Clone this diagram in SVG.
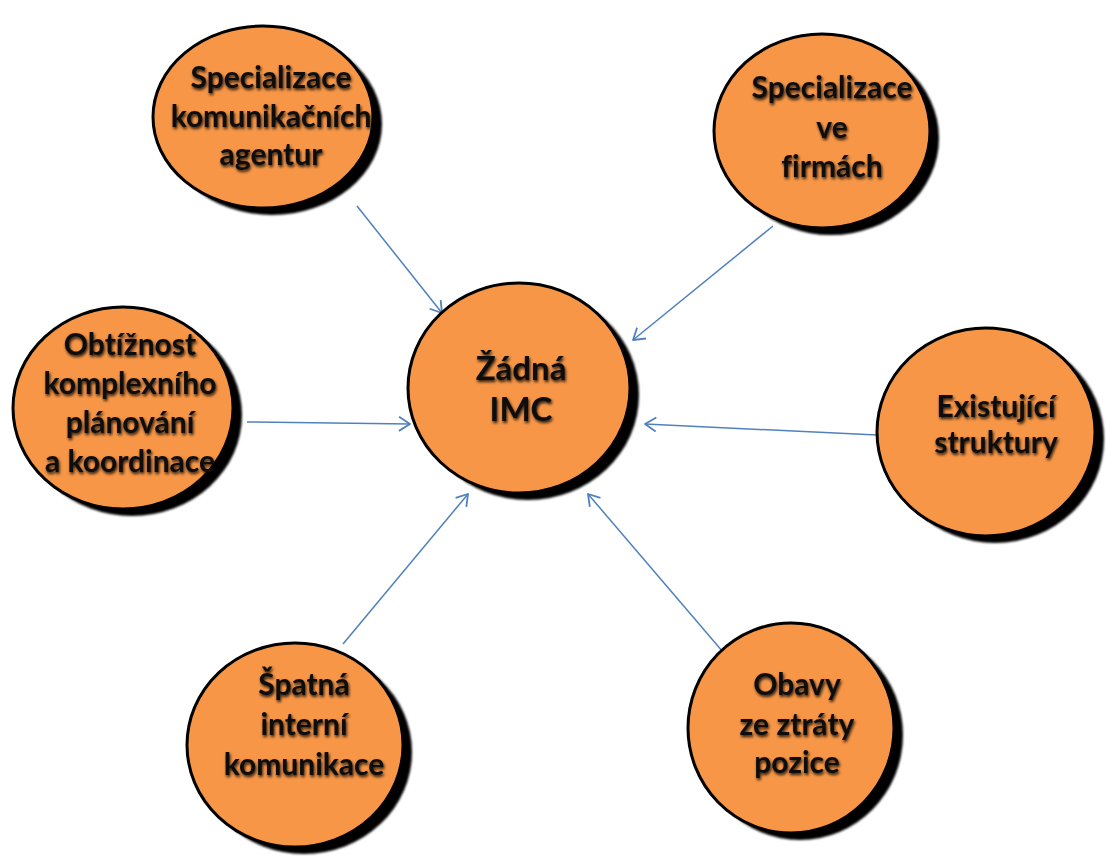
<svg xmlns="http://www.w3.org/2000/svg" width="1106" height="856" viewBox="0 0 1106 856">
  <style>
    .shadow { fill: #000; filter: url(#soft); }
    .bubble { fill: #F79646; stroke: #000; stroke-width: 3; }
    .label { font-family: Lato, "Open Sans", "DejaVu Sans", sans-serif; font-weight: bold; font-size: 30px; fill: #111; text-anchor: middle; font-variant-ligatures: none; font-feature-settings: "liga" 0, "clig" 0; filter: url(#textglow); }
    .big { font-size: 33px; }
    .link { stroke: #4F81BD; stroke-width: 1.5; fill: none; marker-end: url(#arrow); }
  </style>
  <defs>
    <filter id="soft" x="-10%" y="-10%" width="120%" height="120%">
      <feGaussianBlur stdDeviation="1"/>
    </filter>
    <filter id="textglow" x="-10%" y="-30%" width="120%" height="160%">
      <feGaussianBlur in="SourceAlpha" stdDeviation="1.4" result="b"/>
      <feOffset in="b" dx="1" dy="1.5" result="o"/>
      <feComponentTransfer in="o" result="s">
        <feFuncA type="linear" slope="0.85"/>
      </feComponentTransfer>
      <feMerge>
        <feMergeNode in="s"/>
        <feMergeNode in="SourceGraphic"/>
      </feMerge>
    </filter>
    <marker id="arrow" markerUnits="userSpaceOnUse" markerWidth="18" markerHeight="18" viewBox="-13 -9 15 18" refX="0" refY="0" orient="auto">
      <path d="M -11 -7 L 0 0 L -11 7" fill="none" stroke="#4F81BD" stroke-width="1.8" stroke-linejoin="round"/>
    </marker>
  </defs>

  <rect width="1106" height="856" fill="#fff"/>

  <!-- connectors: every factor points at the central bubble -->
  <g id="connectors">
    <line class="link" x1="357" y1="206" x2="442" y2="313"/>
    <line class="link" x1="773" y1="226" x2="633" y2="340"/>
    <line class="link" x1="247" y1="422" x2="410" y2="424"/>
    <line class="link" x1="877" y1="435" x2="645" y2="424"/>
    <line class="link" x1="343" y1="644" x2="468" y2="494"/>
    <line class="link" x1="723" y1="652" x2="588" y2="494"/>
  </g>

  <g id="center">
    <ellipse class="shadow" cx="528" cy="395" rx="111" ry="105"/>
    <ellipse class="bubble" cx="519" cy="388" rx="111" ry="105"/>
    <text class="label big" x="521" y="380">Žádná</text>
    <text class="label big" x="521" y="421">IMC</text>
  </g>

  <g id="agencies">
    <ellipse class="shadow" cx="272" cy="124" rx="110" ry="91"/>
    <ellipse class="bubble" cx="263" cy="117" rx="110" ry="91"/>
    <text class="label" x="271" y="88">Specializace</text>
    <text class="label" x="271" y="127">komunikačních</text>
    <text class="label" x="271" y="165">agentur</text>
  </g>

  <g id="firms">
    <ellipse class="shadow" cx="831" cy="138" rx="108" ry="97"/>
    <ellipse class="bubble" cx="822" cy="131" rx="108" ry="97"/>
    <text class="label" x="832" y="98">Specializace</text>
    <text class="label" x="832" y="138">ve</text>
    <text class="label" x="832" y="177">firmách</text>
  </g>

  <g id="planning">
    <ellipse class="shadow" cx="132" cy="415" rx="110" ry="101"/>
    <ellipse class="bubble" cx="123" cy="408" rx="110" ry="101"/>
    <text class="label" x="130" y="355">Obtížnost</text>
    <text class="label" x="130" y="394">komplexního</text>
    <text class="label" x="130" y="433">plánování</text>
    <text class="label" x="130" y="472">a koordinace</text>
  </g>

  <g id="structures">
    <ellipse class="shadow" cx="995" cy="439" rx="109" ry="104"/>
    <ellipse class="bubble" cx="986" cy="432" rx="109" ry="104"/>
    <text class="label" x="996" y="417">Existující</text>
    <text class="label" x="996" y="453">struktury</text>
  </g>

  <g id="communication">
    <ellipse class="shadow" cx="304" cy="752" rx="108" ry="102"/>
    <ellipse class="bubble" cx="295" cy="745" rx="108" ry="102"/>
    <text class="label" x="304" y="695">Špatná</text>
    <text class="label" x="304" y="735">interní</text>
    <text class="label" x="304" y="775">komunikace</text>
  </g>

  <g id="position">
    <ellipse class="shadow" cx="800" cy="735" rx="103" ry="105"/>
    <ellipse class="bubble" cx="791" cy="728" rx="103" ry="105"/>
    <text class="label" x="797" y="695">Obavy</text>
    <text class="label" x="797" y="735">ze ztráty</text>
    <text class="label" x="797" y="773">pozice</text>
  </g>
</svg>
